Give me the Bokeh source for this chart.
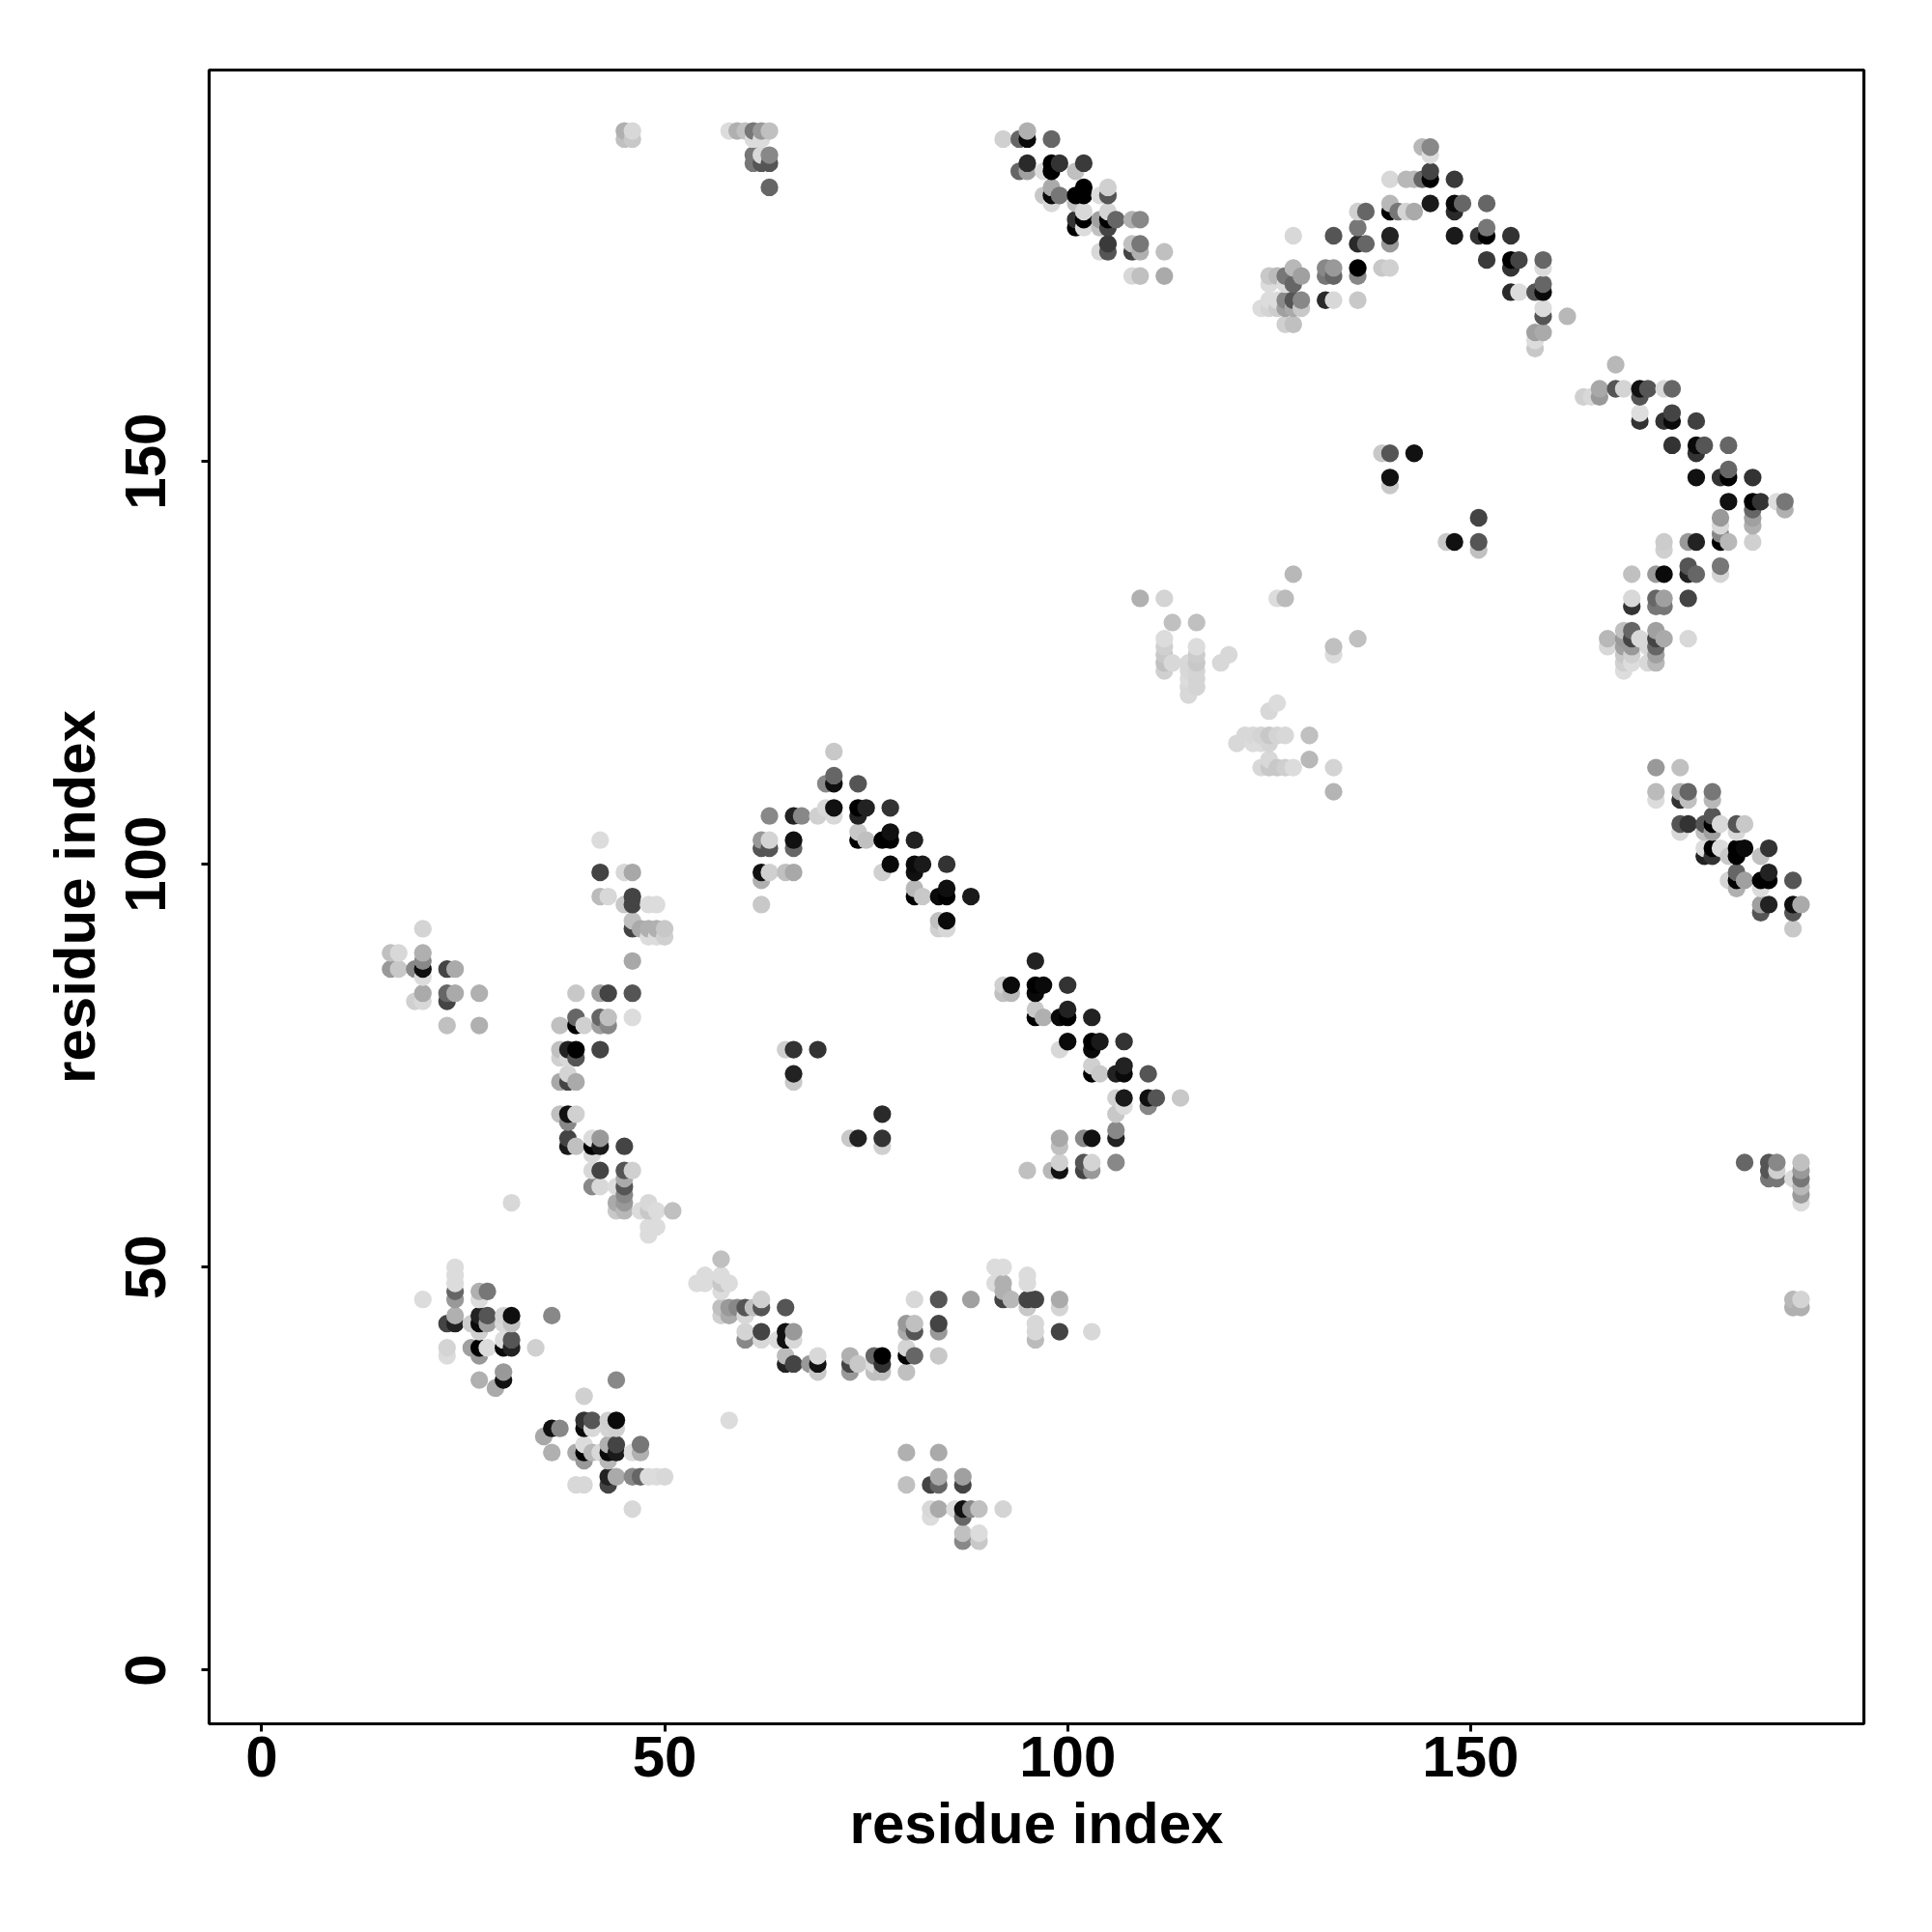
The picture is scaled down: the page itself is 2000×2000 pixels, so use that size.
from bokeh.plotting import figure
from bokeh.embed import file_html
from bokeh.resources import INLINE
from bokeh.models import Range1d, FixedTicker
import numpy as np

tick_values = [0, 50, 100, 150]
axis_title = "residue index"

# (residue i, residue j, grey level)
top_left = [
 (45,191,0xb0),(46,191,0xd8),(45,190,0xc0),(46,190,0xc8),
 (58,191,0xdc),(59,191,0xb0),(60,191,0xc0),(61,191,0x77),(62,191,0x99),(63,191,0xc0),
 (61,190,0xdc),(62,190,0xdc),(61,188,0x77),(62,188,0xd8),(63,188,0x88),
 (61,187,0x77),(62,187,0x55),(63,187,0x55),(63,184,0x66),
]
top_mid = [
 (95,191,0xb0),(92,190,0xd0),(94,190,0x66),(95,190,0x0a),(98,190,0x66),
 (95,187,0x2a),(98,187,0x00),(99,187,0x33),(102,187,0x3a),
 (94,186,0x66),(95,186,0xa0),(97,186,0xdc),(98,186,0x00),(101,186,0xc0),
 (98,184,0xaa),(102,184,0x00),(105,184,0xd0),
 (97,183,0xc8),(98,183,0x0a),(99,183,0x77),(101,183,0x00),(102,183,0x00),(104,183,0xdc),(105,183,0x55),
 (98,182,0xd8),(101,182,0xc0),(102,181,0xd8),(105,181,0xd4),
 (101,180,0x33),(102,180,0x00),(104,180,0xa0),(105,180,0x00),(106,180,0x66),(108,180,0xb0),(109,180,0x88),
 (101,179,0x00),(102,179,0xdc),(104,179,0xc0),(105,179,0x44),
 (105,177,0x3a),(108,177,0xc0),(109,177,0x77),
 (104,176,0xd8),(105,176,0x55),(108,176,0x44),(109,176,0xb0),(112,176,0xc0),
 (108,173,0xd8),(109,173,0xc0),(112,173,0xaa),
]
top_arc = [
 (144,189,0xb8),(145,189,0x88),(145,188,0xdc),(145,186,0x44),
 (140,185,0xd8),(142,185,0xb8),(143,185,0xb8),(144,185,0x66),(145,185,0x00),(148,185,0x3a),
 (140,182,0xb8),(145,182,0x1a),(148,182,0x0a),(149,182,0x66),(152,182,0x66),
 (136,181,0xd0),(137,181,0x66),(140,181,0x00),(141,181,0x77),(142,181,0xd4),(143,181,0xaa),(148,181,0x2a),
 (136,179,0x77),(152,179,0x77),
 (128,178,0xd8),(133,178,0x55),(140,178,0x22),(148,178,0x1a),(151,178,0x33),(152,178,0x00),(155,178,0x33),
 (136,177,0x2a),(137,177,0x66),(140,177,0x99),
 (152,175,0x3a),(155,175,0x00),(156,175,0x44),(159,175,0x66),
 (128,174,0xb8),(132,174,0x88),(133,174,0x99),(136,174,0x00),(139,174,0xc8),(140,174,0xd0),(155,174,0x33),(159,174,0xdc),
 (125,173,0xc8),(126,173,0xbb),(127,173,0x77),(129,173,0xa0),(132,173,0x77),(133,173,0x66),(136,173,0x88),
 (125,172,0xdc),(127,172,0xdc),(128,172,0x66),(159,172,0x66),
 (155,171,0x2a),(156,171,0xdc),(158,171,0x55),(159,171,0x0a),
 (125,170,0xdc),(126,170,0xdc),(127,170,0x88),(128,170,0x55),(129,170,0x88),(132,170,0x2a),(133,170,0xd8),(136,170,0xc8),
 (124,169,0xdc),(125,169,0xd4),(126,169,0xcc),(127,169,0xa0),(128,169,0xaa),(129,169,0xc8),(159,169,0xdc),
 (159,168,0x55),(162,168,0xb8),(127,167,0xd0),(128,167,0xc0),
 (158,166,0xa0),(159,166,0xaa),(158,165,0xdc),(158,164,0xc8),
]
right_arc = [
 (168,162,0xb8),
 (166,159,0xa8),(168,159,0x55),(169,159,0xd4),(171,159,0x11),(172,159,0x55),(174,159,0xd8),(175,159,0x66),
 (164,158,0xd0),(165,158,0xd8),(166,158,0x99),(171,158,0x55),
 (171,156,0xde),(175,156,0x44),(171,155,0x33),(174,155,0x33),(175,155,0x0a),(178,155,0x40),
 (175,152,0x33),(178,152,0x0a),(179,152,0x55),(182,152,0x66),(178,151,0x33),(182,149,0x66),
 (178,148,0x11),(181,148,0x33),(182,148,0x00),(185,148,0x33),
 (182,145,0x11),(185,145,0x00),(186,145,0x33),(188,145,0xdd),(189,145,0x77),
 (185,144,0x66),(189,144,0xb0),(181,143,0x99),(185,143,0xa0),(181,142,0xd8),(185,142,0xb0),(181,141,0x88),
 (174,140,0xcc),(177,140,0x99),(178,140,0x22),(181,140,0x00),(182,140,0xb8),(185,140,0xd0),(174,139,0xd0),
 (177,137,0x55),(181,137,0x77),
 (170,136,0xc0),(173,136,0x99),(174,136,0x0a),(177,136,0x22),(178,136,0x66),(181,136,0xd4),
 (170,133,0xd8),(173,133,0x66),(174,133,0xa0),(177,133,0x44),
 (170,132,0x33),(173,132,0x77),(174,132,0x77),
 (169,129,0xc0),(170,129,0x66),(173,129,0xa0),
 (167,128,0xb8),(169,128,0x99),(170,128,0x44),(171,128,0xd8),(173,128,0x44),(174,128,0xaa),(177,128,0xd8),
 (167,127,0xd8),(169,127,0xa0),(170,127,0x99),(172,127,0xd8),(173,127,0x66),
 (169,126,0xc8),(170,126,0xd0),(173,126,0xa0),
 (169,125,0xd0),(170,125,0xdd),(172,125,0xd8),(173,125,0xb8),(169,124,0xdd),
]
pale_middle = [
 (109,133,0xb0),(112,133,0xd4),(113,130,0xc0),(116,130,0xc0),
 (112,128,0xdc),(112,127,0xd0),(112,126,0xc8),(112,125,0xc0),(112,124,0xd0),(113,125,0xd8),
 (116,127,0xdc),(116,126,0xcc),(116,125,0xc8),(116,124,0xd4),(116,123,0xd4),(116,122,0xd4),
 (115,125,0xd8),(115,124,0xd8),(115,123,0xdc),(115,122,0xd8),(115,121,0xd8),
 (119,125,0xd8),(120,126,0xd8),
 (126,133,0xdc),(127,133,0xbb),(128,136,0xb8),(126,120,0xdc),(125,119,0xd8),
 (133,127,0xc0),(133,126,0xdc),(136,128,0xc0),
 (122,116,0xd8),(123,116,0xd8),(124,116,0xd4),(125,116,0xc8),(126,116,0xd4),(127,116,0xd8),(130,116,0xc0),
 (121,115,0xd8),(123,115,0xdc),(124,115,0xdc),(125,115,0xd4),
 (125,113,0xd8),(130,113,0xb8),
 (124,112,0xd8),(125,112,0xc8),(126,112,0xc8),(127,112,0xcf),(128,112,0xdc),(133,112,0xd4),(133,109,0xb4),
]
inner_right = [
 (139,151,0xc8),(140,151,0x55),(143,151,0x11),(140,148,0x11),(140,147,0xc8),
 (147,140,0xc8),(148,140,0x11),(151,143,0x44),(151,140,0x55),(151,139,0xc0),
]
lower_right = [
 (173,112,0x99),(176,112,0xc0),
 (173,109,0xbb),(176,109,0xb0),(177,109,0x66),(180,109,0x77),
 (173,108,0xdc),(176,108,0x33),(177,108,0xc0),(180,108,0xb8),
 (180,106,0x55),
 (176,105,0x55),(177,105,0x33),(179,105,0x55),(180,105,0x00),(181,105,0xd8),(183,105,0x55),(184,105,0xc8),
 (176,104,0xd8),(179,104,0xc0),(180,104,0xa0),(183,104,0xd8),
 (179,102,0xdc),(180,102,0x00),(181,102,0xdc),(183,102,0x00),(184,102,0x0a),(187,102,0x33),
 (179,101,0x22),(180,101,0x33),(182,101,0xc8),(183,101,0x00),(186,101,0xc0),
 (183,99,0x66),(187,99,0x22),
 (182,98,0xd4),(183,98,0x00),(184,98,0xa0),(186,98,0x00),(187,98,0x00),(190,98,0x55),
 (183,97,0xb0),(186,97,0xdc),
 (186,95,0xa0),(187,95,0x22),(190,95,0x0f),(191,95,0xaa),
 (186,94,0x55),(190,94,0x55),(190,92,0xc8),
]
central_arc = [
 (71,114,0xc8),(71,111,0x66),(70,110,0x88),(71,110,0x0f),(74,110,0x55),
 (70,107,0xd8),(71,107,0x11),(74,107,0x00),(75,107,0x22),(78,107,0x33),
 (63,106,0x88),(66,106,0x22),(67,106,0x88),(69,106,0xd0),(71,106,0xd8),(74,106,0x22),
 (74,104,0xc8),(78,104,0x11),
 (62,103,0x99),(63,103,0xd4),(66,103,0x11),(74,103,0x00),(75,103,0xc0),(77,103,0x00),(78,103,0x00),(81,103,0x22),
 (62,102,0x55),(63,102,0x55),(66,102,0x66),
 (78,100,0x0a),(81,100,0x0a),(82,100,0x1a),(85,100,0x33),
 (62,99,0x11),(63,99,0xd0),(65,99,0xc0),(66,99,0xa8),(77,99,0xd0),(81,99,0x11),
 (62,98,0xb0),(81,97,0xb8),(85,97,0x0f),
 (81,96,0x00),(82,96,0xc8),(84,96,0x0a),(85,96,0x00),(88,96,0x1a),
 (62,95,0xc8),(84,93,0xc0),(85,93,0x0a),(84,92,0xd0),(85,92,0xd8),
]
mid_right = [
 (96,88,0x22),
 (92,85,0xd0),(93,85,0x0a),(96,85,0x00),(97,85,0x0a),(100,85,0x33),
 (92,84,0xc0),(93,84,0xb8),(96,84,0x0a),
 (96,82,0xc8),(100,82,0x22),
 (96,81,0x00),(97,81,0xb0),(99,81,0x0a),(100,81,0x00),(103,81,0x22),
 (100,78,0x0a),(103,78,0x00),(104,78,0x1a),(107,78,0x33),
 (99,77,0xd8),(103,77,0x0a),
 (103,75,0xd0),(107,75,0x22),
 (103,74,0x00),(104,74,0xc8),(106,74,0x22),(107,74,0x0a),(110,74,0x55),
 (106,71,0xd0),(107,71,0x1a),(110,71,0x11),(111,71,0x55),(114,71,0xc8),
 (107,70,0xdc),(110,70,0x88),(106,69,0xc8),(106,67,0x88),
 (99,66,0xa8),(102,66,0x88),(103,66,0x11),(106,66,0x22),(99,65,0xc0),
 (99,63,0xd0),(102,63,0x55),(103,63,0xd4),(106,63,0x88),
 (95,62,0xc0),(98,62,0xb8),(99,62,0x11),(102,62,0x44),(103,62,0x99),
]
inner_left = [
 (65,77,0xd0),(66,77,0x33),(69,77,0x33),(66,74,0x22),(66,73,0xc8),
 (77,69,0x2a),(73,66,0xc8),(74,66,0x22),(77,66,0x33),(77,65,0xd0),
]
left_arc = [
 (42,103,0xdc),(42,99,0x44),(45,99,0xd8),(46,99,0xa8),
 (42,96,0xbb),(43,96,0xd8),(46,96,0x44),(45,95,0xc8),(46,95,0x44),(48,95,0xdc),(49,95,0xdc),
 (46,93,0xc0),(46,92,0x44),(47,92,0xaa),(48,92,0xb0),(49,92,0xb0),(50,92,0xc8),
 (48,91,0xdc),(49,91,0xdc),(50,91,0xd0),(46,88,0xa8),
 (39,84,0xc8),(42,84,0xa0),(43,84,0x44),(46,84,0x55),
 (39,81,0x66),(42,81,0x66),(43,81,0xc0),(46,81,0xdc),
 (37,80,0xc0),(39,80,0x00),(40,80,0xd0),(42,80,0xa0),(43,80,0x88),
 (37,77,0xc0),(38,77,0x22),(39,77,0x00),(42,77,0x44),
 (37,76,0xd0),(38,76,0xd8),(39,76,0x55),(38,74,0xd4),
 (37,73,0xa8),(38,73,0x44),(39,73,0xaa),
 (37,69,0xc0),(38,69,0x11),(39,69,0xd0),(38,68,0x88),
 (38,66,0x44),(41,66,0xdc),(42,66,0x99),
 (38,65,0x1a),(39,65,0xc0),(41,65,0x00),(42,65,0x1a),(45,65,0x44),
 (41,64,0xd8),(41,62,0xd8),(42,62,0x44),(45,62,0x55),(46,62,0xd0),(45,61,0xaa),
 (41,60,0x88),(42,60,0xd8),(44,60,0xdc),(45,60,0x55),(45,59,0x88),
 (31,58,0xd8),(44,58,0xaa),(45,58,0x99),(48,58,0xd8),
 (44,57,0xc8),(45,57,0xb8),(47,57,0xdc),(48,57,0xc8),(49,57,0xdc),(51,57,0xc0),
 (48,55,0xdc),(49,55,0xdc),(48,54,0xdc),
]
far_left = [
 (20,92,0xd4),(16,89,0xc0),(17,89,0xd8),(20,89,0xb0),(20,88,0x88),
 (16,87,0x99),(17,87,0xc8),(19,87,0x88),(20,87,0x0f),(23,87,0x44),(24,87,0xaa),(20,86,0xdc),
 (20,84,0xaa),(23,84,0x66),(24,84,0xaa),(27,84,0xb0),
 (19,83,0xd0),(20,83,0xd8),(23,83,0x44),(23,80,0xc0),(27,80,0xb0),
]
lower_left = [
 (24,50,0xdc),(24,49,0xdc),(24,48,0xdc),(24,47,0x66),(24,46,0x99),(20,46,0xdc),
 (27,47,0xb0),(28,47,0x77),(27,46,0xdc),
 (24,44,0xb0),(27,44,0x22),(28,44,0x55),(30,44,0xd4),(31,44,0x0f),(36,44,0x88),
 (23,43,0x44),(24,43,0x22),(26,43,0xcc),(27,43,0x0a),(28,43,0xa0),(30,43,0xd8),(31,43,0xc0),
 (27,42,0xd0),(30,41,0xdc),(31,41,0x55),
 (23,40,0xd4),(26,40,0xa0),(27,40,0x00),(28,40,0xdc),(30,40,0x0a),(31,40,0x22),(34,40,0xd0),
 (23,39,0xdc),(27,39,0x99),(30,37,0x99),(27,36,0xb0),(30,36,0x11),(29,35,0xaa),
]
bottom_left = [
 (44,36,0x88),(40,34,0xd0),
 (40,31,0x33),(41,31,0x55),(43,31,0xd0),(44,31,0x0a),
 (36,30,0x11),(37,30,0x88),(40,30,0x0a),(41,30,0xd8),(43,30,0xd4),(44,30,0xd0),(35,29,0xa8),
 (40,28,0xdc),(43,28,0xb0),(44,28,0x44),(47,28,0x77),
 (36,27,0xb0),(39,27,0xaa),(40,27,0x00),(41,27,0xb8),(42,27,0xd8),(43,27,0x0a),(44,27,0x1a),(46,27,0xdc),(47,27,0xb0),
 (40,26,0x99),(43,26,0xb8),
 (43,24,0x22),(44,24,0xaa),(46,24,0x88),(47,24,0x66),(48,24,0xdc),(49,24,0xdc),(50,24,0xd8),
 (39,23,0xd8),(40,23,0xd8),(43,23,0x44),(46,20,0xd8),
]
lower_mid = [
 (57,51,0xc0),(57,49,0xdc),(55,49,0xdc),(54,48,0xdc),(55,48,0xdc),(57,48,0xc8),(58,48,0xdc),(57,47,0xdc),
 (62,46,0xd0),
 (57,45,0xc0),(58,45,0x99),(59,45,0x88),(60,45,0x55),(61,45,0xc0),(62,45,0x55),(65,45,0x55),
 (57,44,0xd0),(58,44,0xaa),(60,44,0xd8),
 (60,42,0xd4),(62,42,0x44),(65,42,0x11),(66,42,0x99),
 (60,41,0x88),(62,41,0xd8),(64,41,0xdc),(65,41,0x11),(66,41,0xd8),
 (65,39,0xbb),(69,39,0xd8),(73,39,0xb0),(76,39,0x66),(77,39,0x00),
 (65,38,0x22),(66,38,0x44),(68,38,0x99),(69,38,0x11),(73,38,0x44),(74,38,0xc8),(76,38,0xdc),(77,38,0x33),
 (69,37,0xc8),(73,37,0x99),(76,37,0xc0),(77,37,0xc0),(80,37,0xc0),
 (58,31,0xdc),
]
lower_hump = [
 (81,46,0xd8),(84,46,0x55),(88,46,0xa0),
 (91,50,0xdc),(92,50,0xdc),(95,49,0xdc),(91,48,0xdc),(92,48,0xb0),(95,48,0xdc),(92,47,0xb0),
 (92,46,0x44),(93,46,0xb8),(95,46,0x44),(96,46,0x44),(99,46,0xaa),(95,45,0xc8),(99,45,0xd4),
 (80,43,0x99),(81,43,0xc0),(84,43,0x44),
 (80,42,0xaa),(81,42,0x55),(84,42,0x99),(96,43,0xd8),(96,42,0xd8),(99,42,0x44),(103,42,0xd8),(96,41,0xbb),
 (80,40,0xd4),(80,39,0x00),(81,39,0x66),(84,39,0xc8),
]
bottom_mid = [
 (80,27,0xb0),(84,27,0xaa),(84,24,0xaa),(87,24,0xa0),
 (80,23,0xc0),(83,23,0x44),(84,23,0x66),(87,23,0x44),
 (83,20,0xd8),(84,20,0xaa),(86,20,0xdc),(87,20,0x11),(88,20,0x88),(89,20,0xc0),(92,20,0xd4),
 (83,19,0xdc),(87,19,0x66),(87,17,0xc0),(89,17,0xdc),(87,16,0x88),(89,16,0xc8),
]
edge_right = [
 (184,63,0x66),(187,63,0x55),(188,63,0x88),(187,62,0x55),(188,62,0xd0),(187,61,0x77),(188,61,0x77),
 (190,61,0xdc),(191,63,0xc0),(191,62,0x99),(191,61,0x77),(191,60,0xb8),(191,59,0x99),(191,58,0xdc),
 (190,46,0xb8),(191,46,0xd4),(190,45,0xb0),(191,45,0xb0),
]

clusters = [top_left, top_mid, top_arc, right_arc, pale_middle, inner_right, lower_right,
            central_arc, mid_right, inner_left, left_arc, far_left, lower_left,
            bottom_left, lower_mid, lower_hump, bottom_mid, edge_right]
pts = np.array([t for c in clusters for t in c])
order = np.lexsort((pts[:, 1], pts[:, 0]))
pts = pts[order]
xs = pts[:, 0].tolist()
ys = pts[:, 1].tolist()
colors = ["#%02x%02x%02x" % (g, g, g) for g in pts[:, 2].tolist()]

p = figure(width=1984, height=1984, output_backend="svg", toolbar_location=None,
           x_range=Range1d(-6.52, 198.8), y_range=Range1d(-6.66, 198.56),
           min_border_left=216, min_border_right=55, min_border_top=72, min_border_bottom=200)
p.background_fill_color = "white"
p.grid.visible = False
p.outline_line_color = "black"
p.outline_line_width = 3.2

p.scatter(xs, ys, size=18.3, color=colors, line_color=None, marker="circle")

FONT = "Liberation Sans"
for ax in (p.xaxis[0], p.yaxis[0]):
    ax.ticker = FixedTicker(ticks=tick_values)
    ax.axis_label = axis_title
    ax.axis_line_color = None
    ax.major_tick_line_color = "black"
    ax.major_tick_line_width = 3
    ax.major_tick_out = 8
    ax.major_tick_in = 0
    ax.minor_tick_line_color = None
    ax.major_label_text_font = FONT
    ax.major_label_text_font_style = "bold"
    ax.major_label_text_font_size = "60px"
    ax.major_label_text_color = "black"
    ax.axis_label_text_font = FONT
    ax.axis_label_text_font_style = "bold"
    ax.axis_label_text_font_size = "60px"
    ax.axis_label_text_color = "black"
p.yaxis[0].major_label_orientation = "vertical"
p.xaxis[0].major_label_standoff = 5
p.yaxis[0].major_label_standoff = 37
p.xaxis[0].axis_label_standoff = 12
p.yaxis[0].axis_label_standoff = 17

open("out.html", "w").write(file_html(p, INLINE))
